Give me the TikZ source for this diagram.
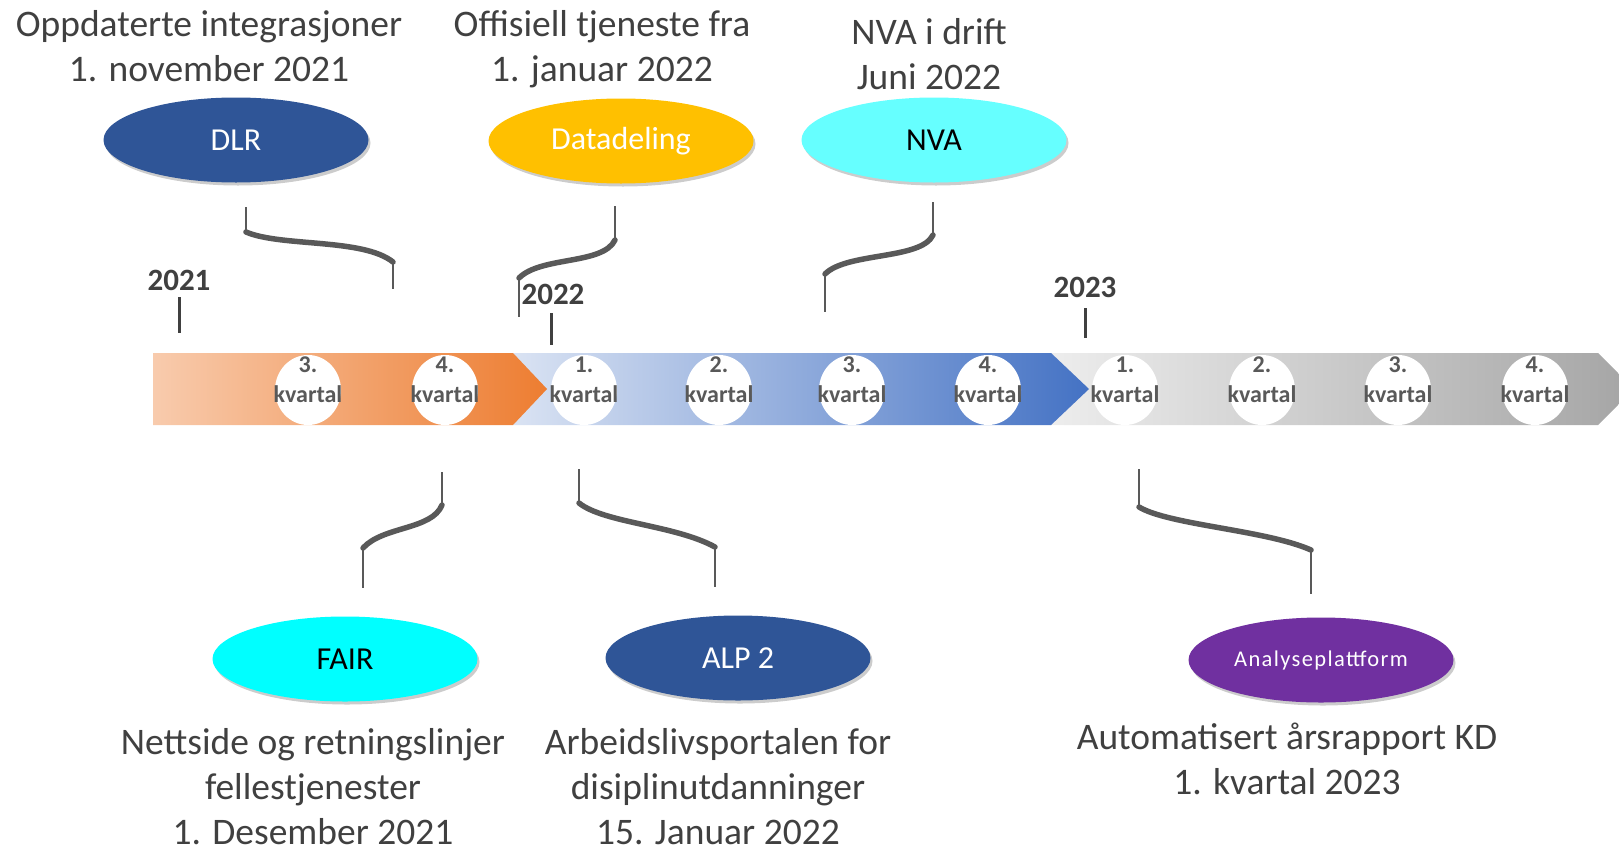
\documentclass[tikz,border=0pt]{standalone}
\usepackage{fontspec}
\setmainfont{Carlito}
\usetikzlibrary{shapes.geometric, shadows, positioning}
\definecolor{txtgray}{HTML}{404040}
\definecolor{linegray}{HTML}{595959}
\definecolor{navyblue}{HTML}{2F5597}
\definecolor{goldyellow}{HTML}{FFC000}
\definecolor{lightaqua}{HTML}{66FFFF}
\definecolor{fairaqua}{HTML}{00FFFF}
\definecolor{analysepurple}{HTML}{7030A0}
\definecolor{orangeA}{HTML}{F8CBAD}
\definecolor{orangeM}{HTML}{F3B18C}
\definecolor{orangeB}{HTML}{ED7D31}
\definecolor{blueA}{HTML}{DAE3F3}
\definecolor{blueM}{HTML}{AFC0E3}
\definecolor{blueB}{HTML}{4472C4}
\definecolor{grayA}{HTML}{EDEDED}
\definecolor{grayM}{HTML}{D0D0D0}
\definecolor{grayB}{HTML}{A5A5A5}
\tikzset{
  event/.style={
    ellipse, minimum width=265pt, minimum height=85pt, inner sep=0pt,
    font=\fontsize{32}{38}\selectfont,
    drop shadow={shadow xshift=2pt, shadow yshift=-3pt, opacity=0.2, fill=black}
  },
  caption/.style={align=center, text=txtgray, font=\fontsize{37.5}{45}\selectfont},
  year/.style={text=txtgray, font=\bfseries\fontsize{31}{31}\selectfont},
  quarter/.style={ellipse, fill=white, minimum width=66pt, minimum height=70pt, inner sep=0pt},
  qlabel/.style={align=center, text=linegray, font=\bfseries\fontsize{24}{30}\selectfont},
  yeartick/.style={draw=txtgray, line width=3pt},
  stem/.style={draw=linegray, line width=2.5pt},
  swirl/.style={draw=linegray, line width=5.5pt, line cap=round}
}

\begin{document}
\begin{tikzpicture}[x=1pt, y=-1pt]
    \useasboundingbox (0,0) rectangle (1619,854);
    
    % timeline band
    \shade[left color=grayA, middle color=grayM, right color=grayB]
      (1051,353) -- (1598,353) -- (1634,389) -- (1598,425) -- (1051,425) -- cycle;
    \shade[left color=blueA, middle color=blueM, right color=blueB]
      (513,353) -- (1051,353) -- (1089,389) -- (1051,425) -- (513,425) -- cycle;
    \shade[left color=orangeA, middle color=orangeM, right color=orangeB]
      (153,353) -- (513,353) -- (547,389) -- (513,425) -- (153,425) -- cycle;
    
    % quarters
    \foreach \x/\q [count=\i] in {308/3, 445/4, 584/1, 719/2, 852/3, 988/4, 1125/1, 1262/2, 1398/3, 1535/4} {
      \node[quarter] (q\i) at (\x,390) {};
      \node[qlabel] (ql\i) at (\x,380) {\q.\\kvartal};
    }
    
    % years
    \node[year] (y21) at (179,280) {2021};
    \node[year] (y22) at (553,294) {2022};
    \node[year] (y23) at (1085,287) {2023};
    \coordinate (y21a) at (179,297); \coordinate (y21b) at (179,333);
    \coordinate (y22a) at (551,313); \coordinate (y22b) at (551,345);
    \coordinate (y23a) at (1085,308); \coordinate (y23b) at (1085,338);
    \draw[yeartick] (y21a) -- (y21b);
    \draw[yeartick] (y22a) -- (y22b);
    \draw[yeartick] (y23a) -- (y23b);
    
    % events above
    \node[event, fill=navyblue, text=white] (dlr) at (236,140) {DLR};
    \node[event, fill=goldyellow, text=white] (datadeling) at (621,141) {Datadeling};
    \node[event, fill=lightaqua, text=black] (nva) at (934,140) {NVA};
    \node[caption] (dlrtxt) at (209,46) {Oppdaterte integrasjoner\\1. november 2021};
    \node[caption] (datatxt) at (602,49) {Offisiell tjeneste fra\\1. januar 2022};
    \node[caption] (nvatxt) at (929,54) {NVA i drift\\Juni 2022};
    
    % events below
    \node[event, fill=fairaqua, text=black] (fair) at (345,659) {FAIR};
    \node[event, fill=navyblue, text=white] (alp) at (738,658) {ALP 2};
    \node[event, fill=analysepurple, text=white,
      font=\fontsize{22.5}{26}\selectfont\addfontfeature{LetterSpace=6}] (analyse) at (1321,660) {Analyseplattform};
    \node[caption] (fairtxt) at (313,787) {Nettside og retningslinjer\\fellestjenester\\1. Desember 2021};
    \node[caption] (alptxt) at (718,787) {Arbeidslivsportalen for\\disiplinutdanninger\\15. Januar 2022};
    \node[caption] (analysetxt) at (1287,759) {Automatisert årsrapport KD\\1. kvartal 2023};
    
    % connectors
    \coordinate (c1a) at (246,207); \coordinate (c1b) at (246,232);
    \coordinate (c1c) at (393,262); \coordinate (c1d) at (393,289);
    \draw[stem] (c1a) -- (c1b);
    \draw[swirl] (c1b) .. controls +(35,15) and +(-30,-24) .. (c1c);
    \draw[stem] (c1c) -- (c1d);
    
    \coordinate (c2a) at (615,206); \coordinate (c2b) at (615,240);
    \coordinate (c2c) at (519,278); \coordinate (c2d) at (519,317);
    \draw[stem] (c2a) -- (c2b);
    \draw[swirl] (c2b) .. controls +(-12,25) and +(22,-22) .. (c2c);
    \draw[stem] (c2c) -- (c2d);
    
    \coordinate (c3a) at (933,202); \coordinate (c3b) at (933,235);
    \coordinate (c3c) at (825,274); \coordinate (c3d) at (825,312);
    \draw[stem] (c3a) -- (c3b);
    \draw[swirl] (c3b) .. controls +(-12,25) and +(22,-22) .. (c3c);
    \draw[stem] (c3c) -- (c3d);
    
    \coordinate (c4a) at (442,472); \coordinate (c4b) at (442,505);
    \coordinate (c4c) at (363,548); \coordinate (c4d) at (363,588);
    \draw[stem] (c4a) -- (c4b);
    \draw[swirl] (c4b) .. controls +(-10,25) and +(20,-22) .. (c4c);
    \draw[stem] (c4c) -- (c4d);
    
    \coordinate (c5a) at (579,469); \coordinate (c5b) at (579,503);
    \coordinate (c5c) at (715,547); \coordinate (c5d) at (715,587);
    \draw[stem] (c5a) -- (c5b);
    \draw[swirl] (c5b) .. controls +(25,20) and +(-40,-22) .. (c5c);
    \draw[stem] (c5c) -- (c5d);
    
    \coordinate (c6a) at (1139,469); \coordinate (c6b) at (1139,507);
    \coordinate (c6c) at (1311,550); \coordinate (c6d) at (1311,594);
    \draw[stem] (c6a) -- (c6b);
    \draw[swirl] (c6b) .. controls +(30,18) and +(-45,-20) .. (c6c);
    \draw[stem] (c6c) -- (c6d);
    
\end{tikzpicture}
\end{document}
